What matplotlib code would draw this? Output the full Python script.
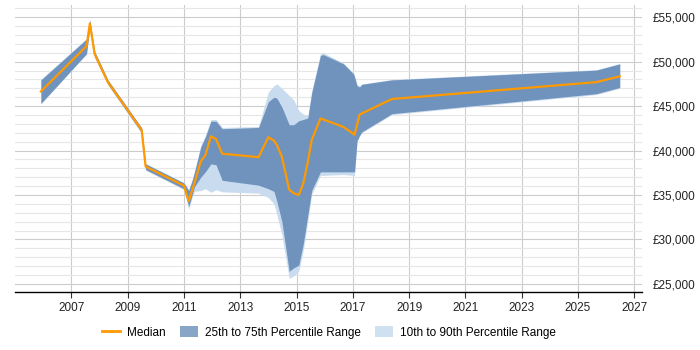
import matplotlib
matplotlib.use('Agg')
import matplotlib.pyplot as plt
import matplotlib.patches as patches
from matplotlib.lines import Line2D
from matplotlib.ticker import MultipleLocator, FuncFormatter

plt.rcParams['font.family'] = ['Liberation Sans', 'DejaVu Sans']

# time points (fractional years) and salary percentiles
years = [2005.92, 2007.54, 2007.66, 2007.83, 2008.30, 2009.50, 2009.64, 2011.00,
         2011.17, 2011.30, 2011.37, 2011.60, 2011.76, 2011.96, 2012.14, 2012.36,
         2013.65, 2014.00, 2014.20, 2014.30, 2014.48, 2014.74, 2014.90, 2015.08,
         2015.24, 2015.40, 2015.54, 2015.85, 2015.95, 2016.67, 2017.03, 2017.06,
         2017.15, 2017.24, 2017.32, 2018.39, 2025.65, 2026.48]
median = [46650, 51750, 54300, 50850, 47700, 42300, 38200, 36050,
          34300, 35600, 36300, 38800, 39450, 41600, 41300, 39650,
          39250, 41500, 41100, 40650, 39300, 35600, 35200, 35000,
          36300, 38700, 41200, 43600, 43500, 42650, 41850, 41780,
          42900, 44050, 44170, 45800, 47700, 48350]
p25 = [45300, 50900, 53900, 50550, 47450, 42000, 37850, 35700,
       33700, 35100, 35900, 37000, 37600, 38500, 38400, 36650,
       36100, 35700, 35400, 34300, 32000, 26400, 26800, 27100,
       29500, 32700, 35500, 37600, 37600, 37600, 37600, 37600,
       41100, 41700, 42100, 44150, 46400, 47100]
p75 = [47950, 52550, 54700, 51150, 47950, 42550, 38500, 36350,
       35500, 36700, 37500, 40400, 41500, 43300, 43300, 42450,
       42600, 45500, 46000, 45900, 44900, 42900, 42900, 43350,
       43500, 43650, 46500, 50700, 50800, 49750, 48600, 48300,
       47300, 47150, 47450, 47950, 49050, 49750]
p10 = [45250, 50850, 53850, 50500, 47400, 41950, 37800, 35600,
       33400, 34800, 35400, 35500, 35700, 35300, 35600, 35350,
       35200, 34700, 34000, 32800, 30500, 25600, 25900, 26400,
       28800, 32000, 35100, 37200, 37200, 37300, 37200, 37200,
       41000, 41600, 42000, 44050, 46300, 47000]
p90 = [48000, 52600, 54750, 51200, 48000, 42600, 38550, 36400,
       35600, 36800, 37600, 40600, 41700, 43500, 43500, 42600,
       42700, 46600, 47300, 47500, 47000, 46200, 45700, 44500,
       44100, 43900, 46700, 50900, 51000, 49850, 48700, 48400,
       47400, 47250, 47500, 48000, 49100, 49800]

xticks = list(range(2007, 2028, 2))

fig = plt.figure(figsize=(7, 3.5), dpi=100)
ax = fig.add_axes([0.0214, 0.165, 0.8957, 0.8207])

ax.fill_between(years, p10, p90, color='#c9dbee', linewidth=0, zorder=2)
ax.fill_between(years, p25, p75, color='#6f93bd', linewidth=0, zorder=3)
ax.plot(years, median, color='#ff9900', linewidth=1.6, zorder=4)

ax.set_xlim(2005.0, 2027.27)
ax.set_ylim(24050, 56380)
ax.set_xticks(xticks)
ax.yaxis.set_major_locator(MultipleLocator(5000))
ax.yaxis.set_minor_locator(MultipleLocator(1000))
ax.yaxis.set_major_formatter(FuncFormatter(lambda v, p: '£{:,.0f}'.format(v)))

ax.yaxis.tick_right()
ax.grid(axis='x', color='#cccccc', linewidth=0.8, zorder=1)
ax.grid(axis='y', which='major', color='#cccccc', linewidth=0.8, zorder=1)
ax.grid(axis='y', which='minor', color='#e6e6e6', linewidth=0.8, zorder=1)
ax.set_axisbelow(True)

for s in ['top', 'left', 'right']:
    ax.spines[s].set_visible(False)
ax.spines['bottom'].set_color('black')
ax.spines['bottom'].set_linewidth(1.0)

ax.tick_params(axis='y', which='both', length=0, pad=8, labelsize=8.5, colors='#222222')
ax.tick_params(axis='x', length=4, color='#333333', pad=3, labelsize=8.5, labelcolor='#222222')

handles = [
    Line2D([0], [0], color='#ff9900', linewidth=2),
    patches.Patch(facecolor='#87a5c6', edgecolor='none'),
    patches.Patch(facecolor='#cfe0f0', edgecolor='none'),
]
labels = ['Median', '25th to 75th Percentile Range', '10th to 90th Percentile Range']
fig.legend(handles, labels, loc='center', bbox_to_anchor=(0.47, 0.05), ncol=3,
           frameon=False, fontsize=8.5, handlelength=1.5, handleheight=1.1,
           columnspacing=1.2, handletextpad=0.6)

fig.savefig('out.png', dpi=100)
